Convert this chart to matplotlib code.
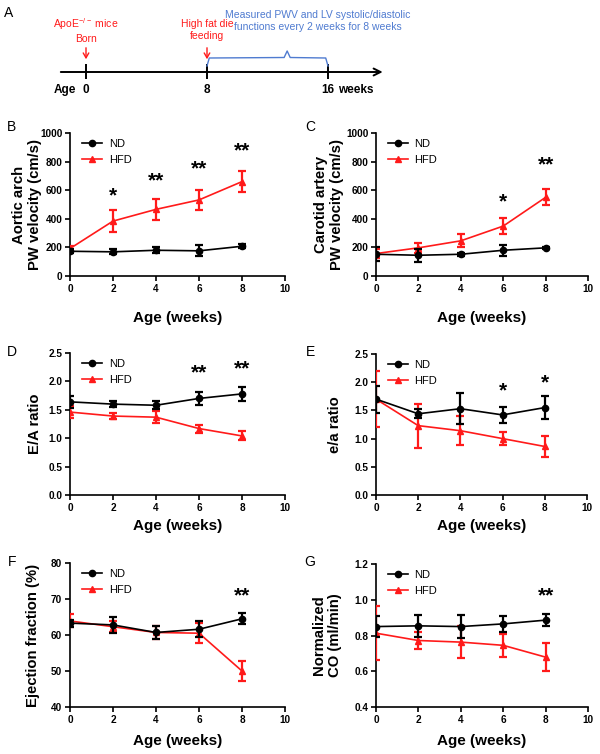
import matplotlib.pyplot as plt
from matplotlib.lines import Line2D

plt.rcParams['font.family'] = ['Liberation Sans', 'DejaVu Sans']
plt.rcParams['mathtext.fontset'] = 'custom'
plt.rcParams['mathtext.rm'] = 'Liberation Sans'

# ---------------- data ----------------
weeks = [0, 2, 4, 6, 8]

# B: aortic arch PW velocity (cm/s)
aortic_nd = [173, 169, 180, 176, 208]
aortic_nd_err = [15, 18, 20, 38, 15]
aortic_hfd = [192, 384, 466, 532, 660]
aortic_hfd_err = [15, 75, 75, 72, 72]
aortic_star_x = [2, 4, 6, 8]
aortic_star_y = [560, 665, 748, 878]
aortic_star_txt = ['*', '**', '**', '**']

# C: carotid artery PW velocity (cm/s)
carotid_nd = [152, 145, 152, 180, 197]
carotid_nd_err = [50, 45, 10, 40, 8]
carotid_hfd = [157, 197, 246, 349, 550]
carotid_hfd_err = [30, 35, 45, 55, 55]
carotid_star_x = [6, 8]
carotid_star_y = [515, 778]
carotid_star_txt = ['*', '**']

# D: E/A ratio
ea_nd = [1.64, 1.60, 1.58, 1.70, 1.78]
ea_nd_err = [0.10, 0.05, 0.07, 0.12, 0.13]
ea_hfd = [1.46, 1.39, 1.37, 1.17, 1.04]
ea_hfd_err = [0.10, 0.06, 0.11, 0.07, 0.08]
ea_star_x = [6, 8]
ea_star_y = [2.15, 2.22]
ea_star_txt = ['**', '**']

# E: e/a ratio
ea2_nd = [1.70, 1.44, 1.53, 1.42, 1.55]
ea2_nd_err = [0.24, 0.08, 0.28, 0.14, 0.20]
ea2_hfd = [1.70, 1.23, 1.14, 1.00, 0.86]
ea2_hfd_err = [0.50, 0.39, 0.26, 0.12, 0.18]
ea2_star_x = [6, 8]
ea2_star_y = [1.84, 1.98]
ea2_star_txt = ['*', '*']

# F: ejection fraction (%)
ef_nd = [63.3, 62.8, 60.7, 61.6, 64.5]
ef_nd_err = [1.0, 2.2, 1.8, 2.2, 1.5]
ef_hfd = [63.9, 62.3, 60.7, 60.5, 50.0]
ef_hfd_err = [1.8, 1.6, 1.8, 2.8, 2.7]
ef_star_x = [8]
ef_star_y = [71.0]
ef_star_txt = ['**']

# G: normalized CO (ml/min)
co_nd = [0.850, 0.854, 0.850, 0.865, 0.886]
co_nd_err = [0.060, 0.060, 0.065, 0.045, 0.035]
co_hfd = [0.813, 0.772, 0.763, 0.745, 0.679]
co_hfd_err = [0.150, 0.050, 0.090, 0.065, 0.080]
co_star_x = [8]
co_star_y = [1.02]
co_star_txt = ['**']

# A: timeline
timeline_weeks = [0, 8, 16]
timeline_labels = ['0', '8', '16']

RED = '#ff1a1a'
BLUE = '#4f7bd0'

fig = plt.figure(figsize=(6, 7.54), dpi=100)
W, H = 600, 754


def px_rect(x0, y0, x1, y1):
    return [x0 / W, 1 - y1 / H, (x1 - x0) / W, (y1 - y0) / H]


def panel(rect, nd, nd_err, hfd, hfd_err, ylim, yticks, yticklabels, ylabel,
          ylabel_x, xlabel_y, sx, sy, stxt):
    ax = fig.add_axes(rect)
    ax.errorbar(weeks, hfd, yerr=hfd_err, color=RED, marker='^', ms=4.5,
                lw=1.2, elinewidth=1.6, capsize=3, capthick=1.6, zorder=3)
    ax.errorbar(weeks, nd, yerr=nd_err, color='black', marker='o', ms=4.5,
                lw=1.2, elinewidth=1.6, capsize=3, capthick=1.6, zorder=4)
    ax.set_xlim(0, 10)
    ax.set_ylim(*ylim)
    ax.set_xticks([0, 2, 4, 6, 8, 10])
    ax.set_yticks(yticks)
    ax.set_yticklabels(yticklabels)
    for s in ['top', 'right']:
        ax.spines[s].set_visible(False)
    for s in ['left', 'bottom']:
        ax.spines[s].set_linewidth(1.2)
    ax.tick_params(direction='out', length=3.5, width=1.2, labelsize=7.2, pad=2)
    for lbl in ax.get_xticklabels() + ax.get_yticklabels():
        lbl.set_fontweight('bold')
    ax.set_ylabel(ylabel, fontsize=10.7, fontweight='bold', linespacing=1.2)
    ax.yaxis.set_label_coords(ylabel_x, 0.5)
    ax.set_xlabel('Age (weeks)', fontsize=11, fontweight='bold')
    ax.xaxis.set_label_coords(0.5, xlabel_y)
    for x, y, t in zip(sx, sy, stxt):
        ax.text(x, y, t, ha='center', va='center', fontsize=15, fontweight='bold')
    handles = [Line2D([], [], color='black', marker='o', ms=4.5, lw=1.2),
               Line2D([], [], color=RED, marker='^', ms=4.5, lw=1.2)]
    ax.legend(handles, ['ND', 'HFD'], loc='upper left', bbox_to_anchor=(0.035, 0.99),
              frameon=False, fontsize=8, handlelength=1.8, handletextpad=0.6,
              labelspacing=0.55, borderaxespad=0)
    return ax


panel(px_rect(70, 133, 285, 276), aortic_nd, aortic_nd_err, aortic_hfd, aortic_hfd_err,
      (0, 1000), [0, 200, 400, 600, 800, 1000], ['0', '200', '400', '600', '800', '1000'],
      'Aortic arch\nPW velocity (cm/s)', -0.13, -0.245,
      aortic_star_x, aortic_star_y, aortic_star_txt)
panel(px_rect(376, 133, 588, 276), carotid_nd, carotid_nd_err, carotid_hfd, carotid_hfd_err,
      (0, 1000), [0, 200, 400, 600, 800, 1000], ['0', '200', '400', '600', '800', '1000'],
      'Carotid artery\nPW velocity (cm/s)', -0.15, -0.245,
      carotid_star_x, carotid_star_y, carotid_star_txt)
panel(px_rect(70, 353, 285, 495), ea_nd, ea_nd_err, ea_hfd, ea_hfd_err,
      (0, 2.5), [0, 0.5, 1.0, 1.5, 2.0, 2.5], ['0.0', '0.5', '1.0', '1.5', '2.0', '2.5'],
      'E/A ratio', -0.13, -0.17,
      ea_star_x, ea_star_y, ea_star_txt)
panel(px_rect(376, 354, 587, 495), ea2_nd, ea2_nd_err, ea2_hfd, ea2_hfd_err,
      (0, 2.5), [0, 0.5, 1.0, 1.5, 2.0, 2.5], ['0.0', '0.5', '1.0', '1.5', '2.0', '2.5'],
      'e/a ratio', -0.16, -0.17,
      ea2_star_x, ea2_star_y, ea2_star_txt)
panel(px_rect(70, 563, 285, 707), ef_nd, ef_nd_err, ef_hfd, ef_hfd_err,
      (40, 80), [40, 50, 60, 70, 80], ['40', '50', '60', '70', '80'],
      'Ejection fraction (%)', -0.14, -0.19,
      ef_star_x, ef_star_y, ef_star_txt)
panel(px_rect(376, 564, 588, 707), co_nd, co_nd_err, co_hfd, co_hfd_err,
      (0.4, 1.2), [0.4, 0.6, 0.8, 1.0, 1.2], ['0.4', '0.6', '0.8', '1.0', '1.2'],
      'Normalized\nCO (ml/min)', -0.16, -0.19,
      co_star_x, co_star_y, co_star_txt)

# panel letters
for letter, x, y in [('A', 9, 13), ('B', 12, 127), ('C', 310, 127), ('D', 12, 352),
                     ('E', 310, 352), ('F', 12, 562), ('G', 310, 562)]:
    fig.text(x / W, 1 - y / H, letter, fontsize=10, ha='center', va='center')

# ---------------- A: timeline ----------------
axA = fig.add_axes(px_rect(0, 0, 600, 110))
scale = 15.125  # px per week
axA.set_xlim(-86 / scale, (600 - 86) / scale)
axA.set_ylim(110, 0)
axA.axis('off')

axA.annotate('', xy=(19.8, 72), xytext=(-1.85, 72),
             arrowprops=dict(arrowstyle='->,head_length=0.5,head_width=0.25', lw=1.4, color='black'))
axA.vlines(timeline_weeks, 64, 79, color='black', lw=1.4)
for w, lab in zip(timeline_weeks, timeline_labels):
    axA.text(w, 90, lab, ha='center', va='center', fontsize=8.5, fontweight='bold')
axA.text(-1.4, 90, 'Age', ha='center', va='center', fontsize=8.5, fontweight='bold')
axA.text(17.85, 90, 'weeks', ha='center', va='center', fontsize=8.5, fontweight='bold')

for w in [0, 8]:
    axA.annotate('', xy=(w, 62), xytext=(w, 45),
                 arrowprops=dict(arrowstyle='->,head_length=0.35,head_width=0.2', lw=1.0, color=RED))
axA.text(0, 30, 'ApoE$^{-/-}$ mice\nBorn', ha='center', va='center', fontsize=7.5,
         color=RED, linespacing=1.3)
axA.text(8, 30, 'High fat die\nfeeding', ha='center', va='center', fontsize=7.5,
         color=RED, linespacing=1.35)
axA.text(15.34, 21, 'Measured PWV and LV systolic/diastolic\nfunctions every 2 weeks for 8 weeks',
         ha='center', va='center', fontsize=7.5, color=BLUE, linespacing=1.35)
brace_x = [8, 8.15, 13.1, 13.3, 13.5, 15.85, 16]
brace_y = [66, 58, 57.5, 51, 57.5, 58, 66]
axA.plot(brace_x, brace_y, color=BLUE, lw=1.0)

fig.savefig('out.png', dpi=100)
